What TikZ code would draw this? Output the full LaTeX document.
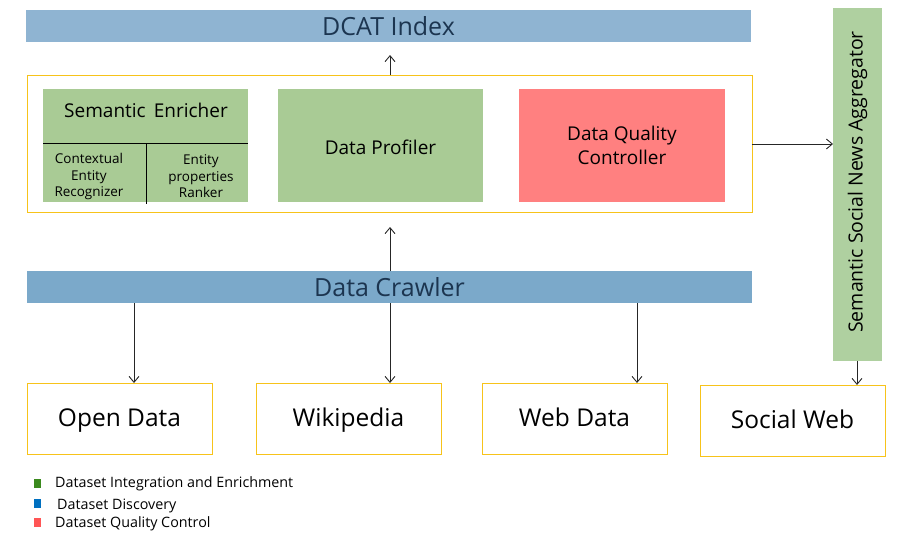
\documentclass[tikz,border=0pt]{standalone}
\usepackage{fontspec}
\setmainfont{Open Sans}
\usetikzlibrary{arrows.meta}
\definecolor{bluebar}{HTML}{8FB4D2}
\definecolor{bluebarb}{HTML}{7BA9CA}
\definecolor{greenbox}{HTML}{A9CB95}
\definecolor{greenagg}{HTML}{AFD0A0}
\definecolor{redbox}{HTML}{FF8080}
\definecolor{frameyellow}{HTML}{F7C31A}
\definecolor{bartext}{HTML}{1C3550}
\definecolor{leggreen}{HTML}{3B8A1E}
\definecolor{legblue}{HTML}{0070C0}
\definecolor{legred}{HTML}{FF5555}
\newcommand{\lowtxt}[1]{\raisebox{-2pt}[\height][\depth]{#1}}
\tikzset{
  box/.style={anchor=north west, inner sep=0pt, outer sep=0pt, align=center},
  bar/.style={box, minimum width=725pt, minimum height=32pt, font=\fontsize{25}{28}\selectfont, text=bartext},
  gbox/.style={box, fill=greenbox, minimum width=205pt, minimum height=113pt, font=\fontsize{19}{24}\selectfont},
  ybox/.style={box, draw=frameyellow, line width=0.9pt, minimum width=185pt, minimum height=71pt, font=\fontsize{24.5}{28}\selectfont, text height=19.5pt, text depth=3pt},
  conn/.style={draw=black!85, line width=0.9pt, -{Straight Barb[length=6pt,width=10pt,line width=0.9pt]}},
  legsq/.style={inner sep=0pt, outer sep=0pt, minimum width=7pt, minimum height=9pt},
  legtxt/.style={anchor=west, inner sep=0pt, font=\fontsize{14.3}{16}\selectfont},
}
\begin{document}
\begin{tikzpicture}[x=1pt,y=-1pt]
\useasboundingbox (0,0) rectangle (913,541);
% DCAT index
\node[bar, fill=bluebar] (dcat) at (26,10) {DCAT Index};
% frame
\node[box, draw=frameyellow, line width=0.9pt, minimum width=725pt, minimum height=137pt] (frame) at (27,75) {};
% semantic enricher
\node[gbox] (se) at (43,89) {};
\node[font=\fontsize{19}{24}\selectfont, inner sep=0pt] (setitle) at (146,110) {Semantic\, Enricher};
\draw[black, line width=1pt] (43,143) -- (248,143);
\draw[black, line width=1pt] (146.5,143) -- (146.5,204);
\node[align=center, inner sep=0pt, font=\fontsize{13.5}{16.5}\selectfont] (cer) at (89,176.5) {Contextual\\Entity\\Recognizer};
\node[align=center, inner sep=0pt, font=\fontsize{13.5}{16.5}\selectfont] (epr) at (201,176.5) {Entity\\properties\\Ranker};
% profiler and quality
\node[gbox] (dp) at (278,89) {\lowtxt{Data Profiler}};
\node[gbox, fill=redbox, minimum width=206pt] (dq) at (519,89) {Data Quality\\Controller};
% crawler
\node[bar, fill=bluebarb, minimum width=725pt] (crawler) at (27,271) {Data Crawler};
% aggregator
\node[box, fill=greenagg, minimum width=49pt, minimum height=353pt] (agg) at (833,8) {};
\node[rotate=90, inner sep=0pt, font=\fontsize{19.5}{24}\selectfont] (aggtxt) at (857.5,182) {Semantic Social News Aggregator};
% sources
\node[ybox] (open) at (27,383) {Open Data};
\node[ybox] (wiki) at (256,383) {Wikipedia};
\node[ybox] (web) at (482,383) {Web Data};
\node[ybox] (social) at (700,385) {Social Web};
% connectors
\coordinate (dcattip) at (390,55);
\coordinate (frametip) at (390,227);
\draw[conn] (frame.north -| dcattip) -- (dcattip);
\draw[conn] (crawler.north -| frametip) -- (frametip);
\draw[conn] (crawler.south -| 390,0) -- (wiki.north -| 390,0);
\draw[conn] (crawler.south -| 134,0) -- (open.north -| 134,0);
\draw[conn] (crawler.south -| 637,0) -- (web.north -| 637,0);
\draw[conn] (frame.east |- 0,144) -- (agg.west |- 0,144);
\draw[conn] (agg.south -| 857,0) -- (social.north -| 857,0);
% legend
\node[legsq, fill=leggreen] (lg1) at (37.5,483) {};
\node[legsq, fill=legblue] (lg2) at (37.5,503) {};
\node[legsq, fill=legred] (lg3) at (37.5,522) {};
\node[legtxt] (lt1) at (55,484) {Dataset Integration and Enrichment};
\node[legtxt] (lt2) at (57,505.5) {Dataset Discovery};
\node[legtxt] (lt3) at (55,524) {Dataset Quality Control};
\end{tikzpicture}
\end{document}
